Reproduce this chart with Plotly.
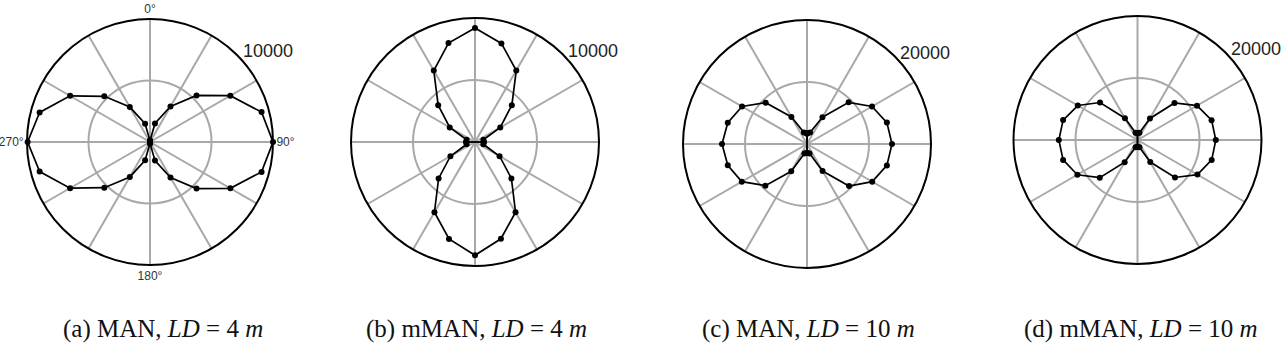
import plotly.graph_objects as go

W, H = 1281, 347

# ---------------- data ----------------
angles = list(range(0, 360, 15))  # degrees, 0 at top, clockwise

man_4m = [100, 1560, 3330, 5350, 7540, 9390, 10000, 9390, 7540, 5350, 3330, 1560,
          100, 1540, 3280, 5250, 7500, 9290, 9950, 9290, 7500, 5250, 3280, 1540]
mman_4m = [9190, 8230, 6660, 4200, 2350, 700, 700, 700, 2290, 4150, 6540, 8080,
           9140, 8100, 6540, 4150, 2290, 700, 700, 700, 2350, 4200, 6650, 8260]
man_10m = [1700, 1900, 4980, 9500, 12110, 13340, 13710, 13340, 12150, 9590, 5030, 1600,
           1400, 1600, 5080, 9500, 12150, 13230, 13710, 13230, 12100, 9420, 5030, 1900]
mman_10m = [1130, 1200, 4020, 8440, 11080, 12370, 12630, 12390, 11160, 8550, 4110, 1200,
            1130, 1200, 4140, 8600, 11200, 12420, 12690, 12420, 11120, 8550, 4050, 1200]

series = [man_4m, mman_4m, man_10m, mman_10m]
lobe_split = [0, 90, 0, 0]          # each lobe is drawn as its own closed loop
radial_max = [10000, 10000, 20000, 20000]
radial_labels = ["10000", "10000", "20000", "20000"]
grid_angles = list(range(0, 360, 30))
angle_labels_a = ["0°", "", "", "90°", "", "", "180°", "", "", "270°", "", ""]
captions = [
    "(a) MAN, <i>LD</i> = 4 <i>m</i>",
    "(b) mMAN, <i>LD</i> = 4 <i>m</i>",
    "(c) MAN, <i>LD</i> = 10 <i>m</i>",
    "(d) mMAN, <i>LD</i> = 10 <i>m</i>",
]

# ---------------- layout geometry (pixels) ----------------
centers = [(150, 142), (475, 142), (807, 144), (1137.5, 140)]
radii = [123, 124, 124, 124]
caption_x = [163, 476, 808, 1141]
caption_y = 329

fig = go.Figure()
layout = dict(
    width=W, height=H,
    margin=dict(l=0, r=0, t=0, b=0),
    paper_bgcolor="white",
    showlegend=False,
    annotations=[],
)

grid_col = "#a8a8a8"
for i, vals in enumerate(series):
    key = "polar" if i == 0 else f"polar{i+1}"
    cx, cy = centers[i]
    R = radii[i]
    s = lobe_split[i]
    n = len(angles)
    start = angles.index(s)
    half = n // 2
    for lobe in range(2):
        idx = [(start + lobe * half + k) % n for k in range(half + 1)]
        th = [angles[j] for j in idx] + [angles[idx[0]]]
        rr = [vals[j] for j in idx] + [vals[idx[0]]]
        fig.add_trace(go.Scatterpolar(
            r=rr, theta=th, mode="lines+markers",
            line=dict(color="black", width=1.7),
            marker=dict(color="black", size=6),
            cliponaxis=False,
            subplot=key,
        ))
    ticktext = angle_labels_a if i == 0 else [""] * len(grid_angles)
    layout[key] = dict(
        domain=dict(x=[(cx - R) / W, (cx + R) / W],
                    y=[1 - (cy + R) / H, 1 - (cy - R) / H]),
        bgcolor="white",
        angularaxis=dict(
            rotation=90, direction="clockwise",
            tickmode="array", tickvals=grid_angles, ticktext=ticktext,
            ticks="", showgrid=True, gridcolor=grid_col, gridwidth=1.5,
            showline=True, linecolor="black", linewidth=2,
            tickfont=dict(family="Liberation Sans", size=12, color="#333333"),
        ),
        radialaxis=dict(
            range=[0, radial_max[i]],
            tickmode="array", tickvals=[radial_max[i] / 2, radial_max[i]],
            showticklabels=False, ticks="", showline=False,
            showgrid=True, gridcolor=grid_col, gridwidth=1.5,
        ),
    )
    layout["annotations"].append(dict(
        text=radial_labels[i], xref="paper", yref="paper",
        x=(cx + 118) / W, y=1 - (cy - 91) / H,
        xanchor="center", yanchor="middle", showarrow=False,
        font=dict(family="Liberation Sans", size=18, color="#222222"),
    ))
    layout["annotations"].append(dict(
        text=captions[i], xref="paper", yref="paper",
        x=caption_x[i] / W, y=1 - caption_y / H,
        xanchor="center", yanchor="middle", showarrow=False,
        font=dict(family="Liberation Serif", size=25, color="#111111"),
    ))

fig.update_layout(**layout)
fig.write_html("out.html")
